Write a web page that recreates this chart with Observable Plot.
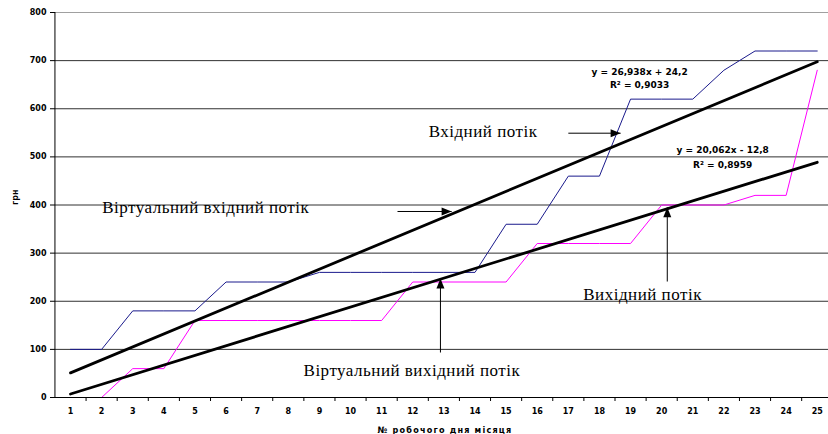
<!DOCTYPE html>
<html>
<head>
<meta charset="utf-8">
<script src="https://cdn.jsdelivr.net/npm/d3@7"></script>
<script src="https://cdn.jsdelivr.net/npm/@observablehq/plot@0.6"></script>
<style>
  html, body { margin: 0; padding: 0; background: #fff; }
  #chart svg { display: block; }
</style>
</head>
<body>
<div id="chart"></div>
<script>
// Working day of the month
const days = [1, 2, 3, 4, 5, 6, 7, 8, 9, 10, 11, 12, 13, 14, 15, 16, 17, 18, 19, 20, 21, 22, 23, 24, 25];
// Cumulative input flow, грн
const inputFlow = [100, 100, 180, 180, 180, 240, 240, 240, 260, 260, 260, 260, 260, 260, 360, 360, 460, 460, 620, 620, 620, 680, 720, 720, 720];
// Cumulative output flow, грн
const outputFlow = [0, 0, 60, 60, 160, 160, 160, 160, 160, 160, 160, 240, 240, 240, 240, 320, 320, 320, 320, 400, 400, 400, 420, 420, 680];
// Value axis ticks
const yTicks = [0, 100, 200, 300, 400, 500, 600, 700, 800];
// Trend line equations
const inputFit = ["y = 26,938x + 24,2", "R² = 0,9033"];
const outputFit = ["y = 20,062x - 12,8", "R² = 0,8959"];

const rows = days.map((d, i) => ({day: d, input: inputFlow[i], output: outputFlow[i]}));
const bandEdges = days.map(d => d + 0.5);

// filled arrowheads, tip at the origin
const headRight = {draw(ctx) { ctx.moveTo(0, 0); ctx.lineTo(-10, -4); ctx.lineTo(-10, 4); ctx.closePath(); }};
const headUp = {draw(ctx) { ctx.moveTo(0, 0); ctx.lineTo(-4, 10); ctx.lineTo(4, 10); ctx.closePath(); }};

const serif = {fontFamily: "Liberation Serif, Times New Roman, serif", fontSize: 17, fill: "#000"};
const small = {fontFamily: "DejaVu Sans, sans-serif", fontWeight: "bold", fontSize: 9, fill: "#000"};

function arrow(x1, y1, x2, y2, head) {
  return [
    Plot.link([0], {x1: () => x1, y1: () => y1, x2: () => x2, y2: () => y2, stroke: "#000", strokeWidth: 1}),
    Plot.dot([0], {x: () => x2, y: () => y2, symbol: head, fill: "#000", stroke: "none", r: 4})
  ];
}
function label(text, x, y, style, anchor = "start") {
  return Plot.text([text], {x: () => x, y: () => y, text: d => d, textAnchor: anchor, lineAnchor: "bottom", ...style});
}

const chart = Plot.plot({
  width: 828,
  height: 434,
  marginLeft: 55,
  marginRight: 0,
  marginTop: 12,
  marginBottom: 37,
  style: {background: "#fff", fontFamily: "DejaVu Sans, sans-serif", overflow: "hidden"},
  x: {domain: [0.5, 25.5], range: [54.45, 832.3]},
  y: {domain: [0, 800]},
  marks: [
    // horizontal gridlines
    Plot.ruleY(yTicks.filter(v => v > 0 && v < 800), {stroke: "#303030", strokeWidth: 1}),
    Plot.ruleY([800], {stroke: "#a0a0a0", strokeWidth: 1}),
    // observed flows
    Plot.line(rows, {x: "day", y: "output", stroke: "#ff00ff", strokeWidth: 1}),
    Plot.line(rows, {x: "day", y: "input", stroke: "#1a1a8c", strokeWidth: 1}),
    // linear trends (virtual flows)
    Plot.linearRegressionY(rows, {x: "day", y: "input", ci: 0, stroke: "#000", strokeWidth: 2.8}),
    Plot.linearRegressionY(rows, {x: "day", y: "output", ci: 0, stroke: "#000", strokeWidth: 2.8}),
    // axes
    Plot.ruleY([0], {stroke: "#000", strokeWidth: 1}),
    Plot.ruleX([0.5], {stroke: "#000", strokeWidth: 1}),
    Plot.axisY(yTicks, {tickSize: 5, tickPadding: 4, fontSize: 8, fontWeight: "bold", label: null}),
    Plot.axisX(bandEdges, {tickSize: 4, fill: "none", label: null}),
    Plot.axisX(days, {tickSize: 0, tickPadding: 11, fontSize: 8, fontWeight: "bold", label: null}),
    Plot.text(["грн"], {frameAnchor: "left", rotate: -90, dx: -40, fontSize: 8, fontWeight: "bold"}),
    Plot.text(["№ робочого дня місяця"], {frameAnchor: "bottom", lineAnchor: "middle", dx: 3, dy: 33, fontSize: 9, fontWeight: "bold", fontFamily: "DejaVu Sans Condensed, DejaVu Sans, sans-serif"}),
    // annotations
    label("Вхідний потік", 12.51, 540.3, serif),
    label("Віртуальний вхідний потік", 2.02, 383, serif),
    label("Вихідний потік", 17.48, 201.6, serif),
    label("Віртуальний вихідний потік", 8.49, 45.7, serif),
    ...arrow(17.0, 549.2, 18.68, 549.2, headRight),
    ...arrow(11.51, 386.5, 13.25, 386.5, headRight),
    ...arrow(20.18, 241, 20.18, 395.4, headUp),
    ...arrow(12.89, 93.5, 12.89, 247.3, headUp),
    label(inputFit[0], 19.29, 669.1, small, "middle"),
    label(inputFit[1], 19.29, 642.7, small, "middle"),
    label(outputFit[0], 21.96, 507.6, small, "middle"),
    label(outputFit[1], 21.96, 477.9, small, "middle")
  ]
});

// wider tracking for the serif captions and the axis title
d3.select(chart).selectAll('g[font-family^="Liberation Serif"]').style("letter-spacing", "0.5px");
d3.select(chart).selectAll('g[font-family^="DejaVu Sans Condensed"]').style("letter-spacing", "1.2px");

document.getElementById("chart").append(chart);
</script>
</body>
</html>
